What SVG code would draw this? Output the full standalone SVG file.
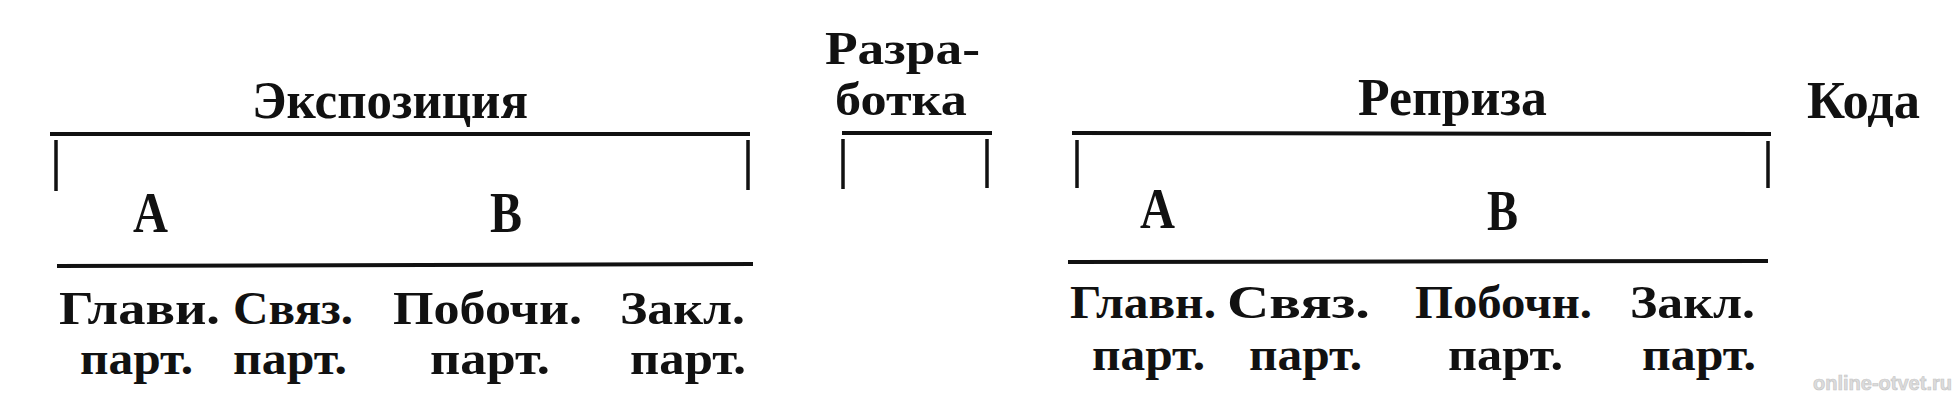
<svg xmlns="http://www.w3.org/2000/svg" width="1959" height="400" viewBox="0 0 1959 400">
<style>
.bg{fill:#ffffff}
.ln{stroke:#111;stroke-width:4;stroke-linecap:butt;fill:none}
.tk{stroke:#111;stroke-width:3.5;fill:none}
.h{font-family:"Liberation Serif","DejaVu Serif",serif;font-weight:bold;font-size:52px;fill:#111}
.h2{font-family:"Liberation Serif","DejaVu Serif",serif;font-weight:bold;font-size:46px;fill:#111}
.ab{font-family:"Liberation Serif","DejaVu Serif",serif;font-weight:bold;font-size:56px;fill:#111}
.lb{font-family:"Liberation Serif","DejaVu Serif",serif;font-weight:bold;font-size:46px;fill:#111}
.wm{font-family:"Liberation Sans","DejaVu Sans",sans-serif;font-weight:bold;font-size:20px;fill:#dcdcdc;stroke:#c4c4c4;stroke-width:0.6}
</style>
<rect class="bg" x="0" y="0" width="1959" height="400"/>
<g id="exposition">
  <text class="h" x="252" y="118" textLength="276" lengthAdjust="spacingAndGlyphs">Экспозиция</text>
  <line class="ln" x1="50" y1="134" x2="750" y2="134"/>
  <line class="tk" x1="56" y1="140" x2="56" y2="191"/>
  <line class="tk" x1="748" y1="140" x2="748" y2="190"/>
  <text class="ab" x="133" y="232" textLength="35" lengthAdjust="spacingAndGlyphs">A</text>
  <text class="ab" x="490" y="232" textLength="32" lengthAdjust="spacingAndGlyphs">B</text>
  <line class="ln" x1="57" y1="266" x2="753" y2="264"/>
  <text class="lb" x="59" y="324" textLength="161" lengthAdjust="spacingAndGlyphs">Глави.</text>
  <text class="lb" x="233" y="324" textLength="120" lengthAdjust="spacingAndGlyphs">Связ.</text>
  <text class="lb" x="393" y="324" textLength="189" lengthAdjust="spacingAndGlyphs">Побочи.</text>
  <text class="lb" x="620" y="324" textLength="125" lengthAdjust="spacingAndGlyphs">Закл.</text>
  <text class="lb" x="80" y="374" textLength="113" lengthAdjust="spacingAndGlyphs">парт.</text>
  <text class="lb" x="233" y="374" textLength="114" lengthAdjust="spacingAndGlyphs">парт.</text>
  <text class="lb" x="430" y="374" textLength="120" lengthAdjust="spacingAndGlyphs">парт.</text>
  <text class="lb" x="630" y="374" textLength="116" lengthAdjust="spacingAndGlyphs">парт.</text>
</g>
<g id="development">
  <text class="h2" x="825" y="64" textLength="155" lengthAdjust="spacingAndGlyphs">Разра-</text>
  <text class="h2" x="835" y="115" textLength="132" lengthAdjust="spacingAndGlyphs">ботка</text>
  <line class="ln" x1="842" y1="133" x2="992" y2="133"/>
  <line class="tk" x1="843" y1="139" x2="843" y2="189"/>
  <line class="tk" x1="987" y1="139" x2="987" y2="188"/>
</g>
<g id="recapitulation">
  <text class="h" x="1358" y="115" textLength="189" lengthAdjust="spacingAndGlyphs">Реприза</text>
  <line class="ln" x1="1072" y1="133" x2="1771" y2="134"/>
  <line class="tk" x1="1077" y1="140" x2="1077" y2="188"/>
  <line class="tk" x1="1768" y1="141" x2="1768" y2="188"/>
  <text class="ab" x="1140" y="228" textLength="35" lengthAdjust="spacingAndGlyphs">A</text>
  <text class="ab" x="1487" y="230" textLength="31" lengthAdjust="spacingAndGlyphs">B</text>
  <line class="ln" x1="1068" y1="262" x2="1768" y2="261"/>
  <text class="lb" x="1070" y="318" textLength="146" lengthAdjust="spacingAndGlyphs">Главн.</text>
  <text class="lb" x="1227" y="318" textLength="143" lengthAdjust="spacingAndGlyphs">Связ.</text>
  <text class="lb" x="1415" y="318" textLength="177" lengthAdjust="spacingAndGlyphs">Побочн.</text>
  <text class="lb" x="1630" y="318" textLength="125" lengthAdjust="spacingAndGlyphs">Закл.</text>
  <text class="lb" x="1092" y="370" textLength="113" lengthAdjust="spacingAndGlyphs">парт.</text>
  <text class="lb" x="1249" y="370" textLength="113" lengthAdjust="spacingAndGlyphs">парт.</text>
  <text class="lb" x="1448" y="370" textLength="115" lengthAdjust="spacingAndGlyphs">парт.</text>
  <text class="lb" x="1642" y="370" textLength="114" lengthAdjust="spacingAndGlyphs">парт.</text>
</g>
<g id="coda">
  <text class="h" x="1807" y="118" textLength="113" lengthAdjust="spacingAndGlyphs">Кода</text>
</g>
<g id="connectors"></g>
<text class="wm" x="1813" y="390" textLength="139" lengthAdjust="spacingAndGlyphs">online-otvet.ru</text>
</svg>
